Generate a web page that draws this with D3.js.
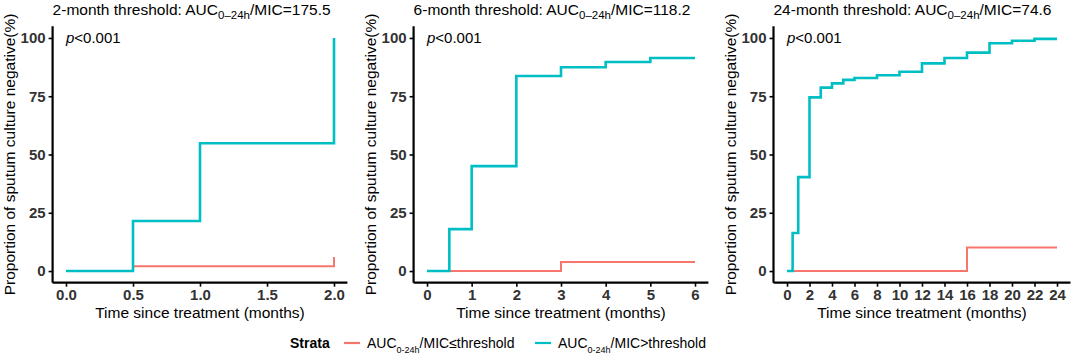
<!DOCTYPE html>
<html>
<head>
<meta charset="utf-8">
<script src="https://cdn.jsdelivr.net/npm/d3@7"></script>
<style>
  body { margin: 0; background: #fff; }
  svg { display: block; font-family: "Liberation Sans", Arial, sans-serif; }
</style>
</head>
<body>
<div id="chart"></div>
<script>
// panel titles: [prefix, subscript, suffix]
const panelTitles = [
  ["2-month threshold: AUC", "0\u201324h", "/MIC=175.5"],
  ["6-month threshold: AUC", "0\u201324h", "/MIC=118.2"],
  ["24-month threshold: AUC", "0\u201324h", "/MIC=74.6"]
];
const xMax = [2, 6, 24];
const xTicks2 = [0, 0.5, 1, 1.5, 2];
const xTicks6 = [0, 1, 2, 3, 4, 5, 6];
const xTicks24 = [0, 2, 4, 6, 8, 10, 12, 14, 16, 18, 20, 22, 24];
const yTicks = [0, 25, 50, 75, 100];
const pLabel = "<0.001";

// low group (AUC/MIC <= threshold)
const lowTime2 = [0, 0.5, 2];
const lowValue2 = [0, 2.1, 6];
const lowTime6 = [0, 3, 6];
const lowValue6 = [0, 3.9, 3.9];
const lowTime24 = [0, 16, 24];
const lowValue24 = [0, 10.1, 10.1];

// high group (AUC/MIC > threshold)
const highTime2 = [0, 0.5, 1, 2];
const highValue2 = [0, 21.5, 54.8, 100];
const highTime6 = [0, 0.5, 1, 2, 3, 4, 5, 6];
const highValue6 = [0, 18, 45, 83.7, 87.4, 89.7, 91.4, 91.4];
const highTime24 = [0, 0.5, 1, 2, 3, 4, 5, 6, 8, 10, 12, 14, 16, 18, 20, 22, 24];
const highValue24 = [0, 16.3, 40.3, 74.5, 78.7, 80.5, 82, 82.8, 84, 85.5, 89.1, 91.4, 93.7, 97.7, 98.8, 99.6, 99.6];

const strataColors = ["#F8766D", "#00BFC4"];

const width = 1072, height = 358;
const panelLeft = [52.6, 413.6, 773.5];
const panelWidth = [294.8, 294.8, 297];
const plotTop = 26.3, plotBottom = 282.7;

const panels = [
  { ticks: xTicks2, fmt: d3.format(".1f"), low: [lowTime2, lowValue2], high: [highTime2, highValue2] },
  { ticks: xTicks6, fmt: d3.format("d"), low: [lowTime6, lowValue6], high: [highTime6, highValue6] },
  { ticks: xTicks24, fmt: d3.format("d"), low: [lowTime24, lowValue24], high: [highTime24, highValue24] }
];

const svg = d3.select("#chart").append("svg")
  .attr("width", width)
  .attr("height", height);

const y = d3.scaleLinear().domain([-5, 105]).range([plotBottom, plotTop]);

panels.forEach((panel, i) => {
  const xm = xMax[i];
  const x = d3.scaleLinear()
    .domain([-0.05 * xm, xm * 1.05])
    .range([panelLeft[i], panelLeft[i] + panelWidth[i]]);

  const g = svg.append("g");

  // title
  const t = g.append("text")
    .attr("x", panelLeft[i])
    .attr("y", 15)
    .attr("font-size", 15.5)
    .attr("fill", "#000");
  t.append("tspan").text(panelTitles[i][0]);
  t.append("tspan").attr("font-size", 11.5).attr("dy", 4).text(panelTitles[i][1]);
  t.append("tspan").attr("dy", -4).text(panelTitles[i][2]);

  // axes
  const yAxis = g.append("g")
    .attr("transform", `translate(${panelLeft[i]},0)`)
    .call(d3.axisLeft(y).tickValues(yTicks).tickSize(4).tickPadding(3));
  const xAxis = g.append("g")
    .attr("transform", `translate(0,${plotBottom})`)
    .call(d3.axisBottom(x).tickValues(panel.ticks).tickFormat(panel.fmt).tickSize(4).tickPadding(3));

  [yAxis, xAxis].forEach((ax) => {
    ax.select(".domain").attr("stroke", "#000").attr("stroke-width", 2.2);
    ax.selectAll(".tick line").attr("stroke", "#000").attr("stroke-width", 1.6);
    ax.selectAll(".tick text")
      .attr("fill", "#333")
      .attr("font-size", 15)
      .attr("font-weight", "bold")
      .attr("font-family", "Liberation Sans, Arial, sans-serif");
  });
  // axis lines without domain end caps
  yAxis.select(".domain").attr("d", `M0,${plotBottom}V${plotTop}`);
  xAxis.select(".domain").attr("d", `M${panelLeft[i]},0H${panelLeft[i] + panelWidth[i]}`);

  // axis titles
  g.append("text")
    .attr("transform", `translate(${panelLeft[i] - 43},${(plotTop + plotBottom) / 2}) rotate(-90)`)
    .attr("text-anchor", "middle")
    .attr("dy", "0.35em")
    .attr("font-size", 15.5)
    .text("Proportion of sputum culture negative(%)");

  g.append("text")
    .attr("x", panelLeft[i] + panelWidth[i] / 2)
    .attr("y", 318)
    .attr("text-anchor", "middle")
    .attr("font-size", 15.5)
    .text("Time since treatment (months)");

  // step curves
  const line = d3.line()
    .x((d) => x(d[0]))
    .y((d) => y(d[1]))
    .curve(d3.curveStepAfter);

  [panel.low, panel.high].forEach((series, k) => {
    const pts = series[0].map((tv, j) => [tv, series[1][j]]);
    g.append("path")
      .datum(pts)
      .attr("d", line)
      .attr("fill", "none")
      .attr("stroke", strataColors[k])
      .attr("stroke-width", k === 0 ? 2 : 2.6);
  });

  // p value
  const p = g.append("text")
    .attr("x", x(0))
    .attr("y", y(100))
    .attr("dy", "0.35em")
    .attr("font-size", 15);
  p.append("tspan").attr("font-style", "italic").text("p");
  p.append("tspan").text(pLabel);
});

// legend
const legend = svg.append("g").attr("transform", "translate(0,343)");
legend.append("text")
  .attr("x", 290)
  .attr("dy", "0.35em")
  .attr("font-size", 14)
  .attr("font-weight", "bold")
  .text("Strata");

const legendX = [344, 535];
const legendParts = [
  ["AUC", "0-24h", "/MIC\u2264threshold"],
  ["AUC", "0-24h", "/MIC>threshold"]
];
legendParts.forEach((parts, k) => {
  legend.append("line")
    .attr("x1", legendX[k])
    .attr("x2", legendX[k] + 16)
    .attr("stroke", strataColors[k])
    .attr("stroke-width", 2.2);
  const lt = legend.append("text")
    .attr("x", legendX[k] + 23)
    .attr("dy", "0.35em")
    .attr("font-size", 14);
  lt.append("tspan").text(parts[0]);
  lt.append("tspan").attr("font-size", 9).attr("dy", 5).text(parts[1]);
  lt.append("tspan").attr("dy", -5).text(parts[2]);
});
</script>
</body>
</html>
